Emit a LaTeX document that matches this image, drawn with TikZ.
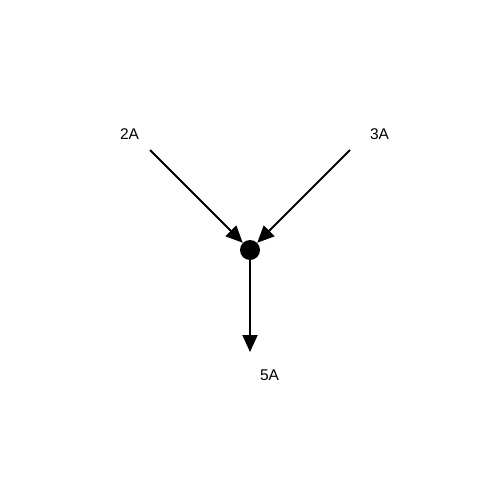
\documentclass[tikz,border=0pt]{standalone}
\usepackage{fontspec}
\setmainfont{Liberation Sans}
\usetikzlibrary{arrows.meta}
\begin{document}
\begin{tikzpicture}[x=1pt,y=-1pt,
  conn/.style={draw=black,line width=2pt,-{Triangle[length=17pt,width=15pt]}},
  lbl/.style={font=\fontsize{15.5}{18}\selectfont,inner sep=0pt},
  junction/.style={circle,fill=black,inner sep=0pt,minimum size=20pt}]
\useasboundingbox[fill=white] (0,0) rectangle (500,500);
\coordinate (s1) at (150,150);
\coordinate (s2) at (350,150);
\coordinate (e3) at (250,352);
\node[junction] (j) at (250,250) {};
\node[lbl] (l2) at (129.5,134) {2A};
\node[lbl] (l3) at (379.5,134) {3A};
\node[lbl] (l5) at (269.5,375) {5A};
\draw[conn] (s1) -- (j);
\draw[conn] (s2) -- (j);
\draw[conn] (j) -- (e3);
\end{tikzpicture}
\end{document}
